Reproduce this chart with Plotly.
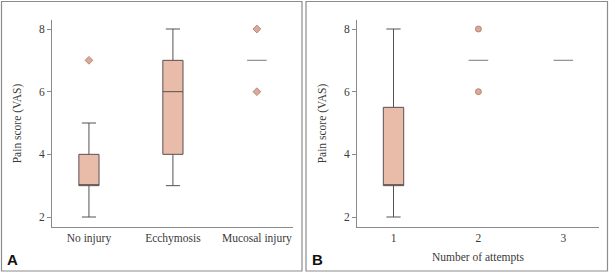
import plotly.graph_objects as go

# ---- data ----
# Panel A
cats_a = ["No injury", "Ecchymosis", "Mucosal injury"]
box_a_cats = ["No injury", "Ecchymosis"]
box_a_low = [2, 3]
box_a_q1 = [3, 4]
box_a_med = [3, 6]
box_a_q3 = [4, 7]
box_a_high = [5, 8]
med_only_a_cats = ["Mucosal injury"]
med_only_a_vals = [7]
out_a_cats = ["No injury", "Mucosal injury", "Mucosal injury"]
out_a_vals = [7, 8, 6]

# Panel B
cats_b = ["1", "2", "3"]
box_b_cats = ["1"]
box_b_low = [2]
box_b_q1 = [3]
box_b_med = [3]
box_b_q3 = [5.5]
box_b_high = [8]
med_only_b_cats = ["2", "3"]
med_only_b_vals = [7, 7]
out_b_cats = ["2", "2"]
out_b_vals = [8, 6]

y_ticks = [2, 4, 6, 8]

# ---- style ----
W, H = 609, 275
BOX_FILL = "#e9bba9"
BOX_LINE = "#5a5050"
PT_FILL = "#dca898"
PT_LINE = "#a8786a"
AXIS = "#8a8a8a"
TXT = "#3a3a3a"
SERIF = "Liberation Serif, Times New Roman, serif"

fig = go.Figure()

def add_box(cats, low, q1, med, q3, high, xa, ya):
    fig.add_trace(go.Box(
        x=cats, lowerfence=low, q1=q1, median=med, q3=q3, upperfence=high,
        xaxis=xa, yaxis=ya, width=0.24, whiskerwidth=0.7,
        fillcolor=BOX_FILL, line=dict(color=BOX_LINE, width=1),
        boxpoints=False, showlegend=False, hoverinfo="skip"))

def add_med(cats, vals, xa, ya):
    fig.add_trace(go.Scatter(
        x=cats, y=vals, mode="markers", xaxis=xa, yaxis=ya,
        marker=dict(symbol="line-ew", size=14, line=dict(color="#8f8f8f", width=1.2)),
        showlegend=False, hoverinfo="skip"))

def add_out(cats, vals, symbol, size, xa, ya):
    fig.add_trace(go.Scatter(
        x=cats, y=vals, mode="markers", xaxis=xa, yaxis=ya,
        marker=dict(symbol=symbol, size=size, color=PT_FILL,
                    line=dict(color=PT_LINE, width=0.8)),
        showlegend=False, hoverinfo="skip"))

add_box(box_a_cats, box_a_low, box_a_q1, box_a_med, box_a_q3, box_a_high, "x", "y")
add_med(med_only_a_cats, med_only_a_vals, "x", "y")
add_out(out_a_cats, out_a_vals, "diamond", 6, "x", "y")

add_box(box_b_cats, box_b_low, box_b_q1, box_b_med, box_b_q3, box_b_high, "x2", "y2")
add_med(med_only_b_cats, med_only_b_vals, "x2", "y2")
add_out(out_b_cats, out_b_vals, "circle", 6, "x2", "y2")

def px(v):
    return v / W

def py(v):
    return 1 - v / H

ydom = [py(227), py(20)]
yrange = [2 - 10 / 31.33, 8 + 9 / 31.33]

common_x = dict(type="category", showline=True, linecolor=AXIS, linewidth=1,
                ticks="", showgrid=False, zeroline=False,
                tickfont=dict(family=SERIF, size=11.5, color=TXT), fixedrange=True)
common_y = dict(showline=True, linecolor=AXIS, linewidth=1, ticks="outside",
                ticklen=4, tickcolor=AXIS, tickvals=y_ticks, range=yrange,
                showgrid=False, zeroline=False, fixedrange=True,
                tickfont=dict(family=SERIF, size=11.5, color=TXT),
                title=dict(text="Pain score (VAS)", font=dict(family=SERIF, size=11.5, color=TXT),
                           standoff=14))

fig.update_layout(
    width=W, height=H, margin=dict(l=0, r=0, t=0, b=0, autoexpand=False),
    paper_bgcolor="white", plot_bgcolor="white", showlegend=False,
    xaxis=dict(common_x, domain=[px(52), px(293)], anchor="y",
               categoryorder="array", categoryarray=cats_a, range=[-0.44, 2.43]),
    yaxis=dict(common_y, domain=ydom, anchor="x"),
    xaxis2=dict(common_x, domain=[px(357), px(599)], anchor="y2",
                categoryorder="array", categoryarray=cats_b, range=[-0.43, 2.42],
                title=dict(text="Number of attempts", font=dict(family=SERIF, size=11.5, color=TXT),
                           standoff=10)),
    yaxis2=dict(common_y, domain=ydom, anchor="x2"),
    shapes=[
        dict(type="rect", xref="paper", yref="paper", x0=px(1.5), x1=px(302), y0=py(271), y1=py(1.5),
             line=dict(color="#8c8c8c", width=1.2)),
        dict(type="rect", xref="paper", yref="paper", x0=px(306), x1=px(607.5), y0=py(271), y1=py(1.5),
             line=dict(color="#8c8c8c", width=1.2)),
    ],
    annotations=[
        dict(text="<b>A</b>", xref="paper", yref="paper", x=px(5), y=py(259), xanchor="left",
             yanchor="middle", showarrow=False, font=dict(family="Liberation Sans, Arial", size=15, color="#111")),
        dict(text="<b>B</b>", xref="paper", yref="paper", x=px(310), y=py(259), xanchor="left",
             yanchor="middle", showarrow=False, font=dict(family="Liberation Sans, Arial", size=15, color="#111")),
    ],
)

fig.write_html("out.html", config={"displayModeBar": False},
               post_script="document.body.style.margin='0';document.body.style.padding='0';")
